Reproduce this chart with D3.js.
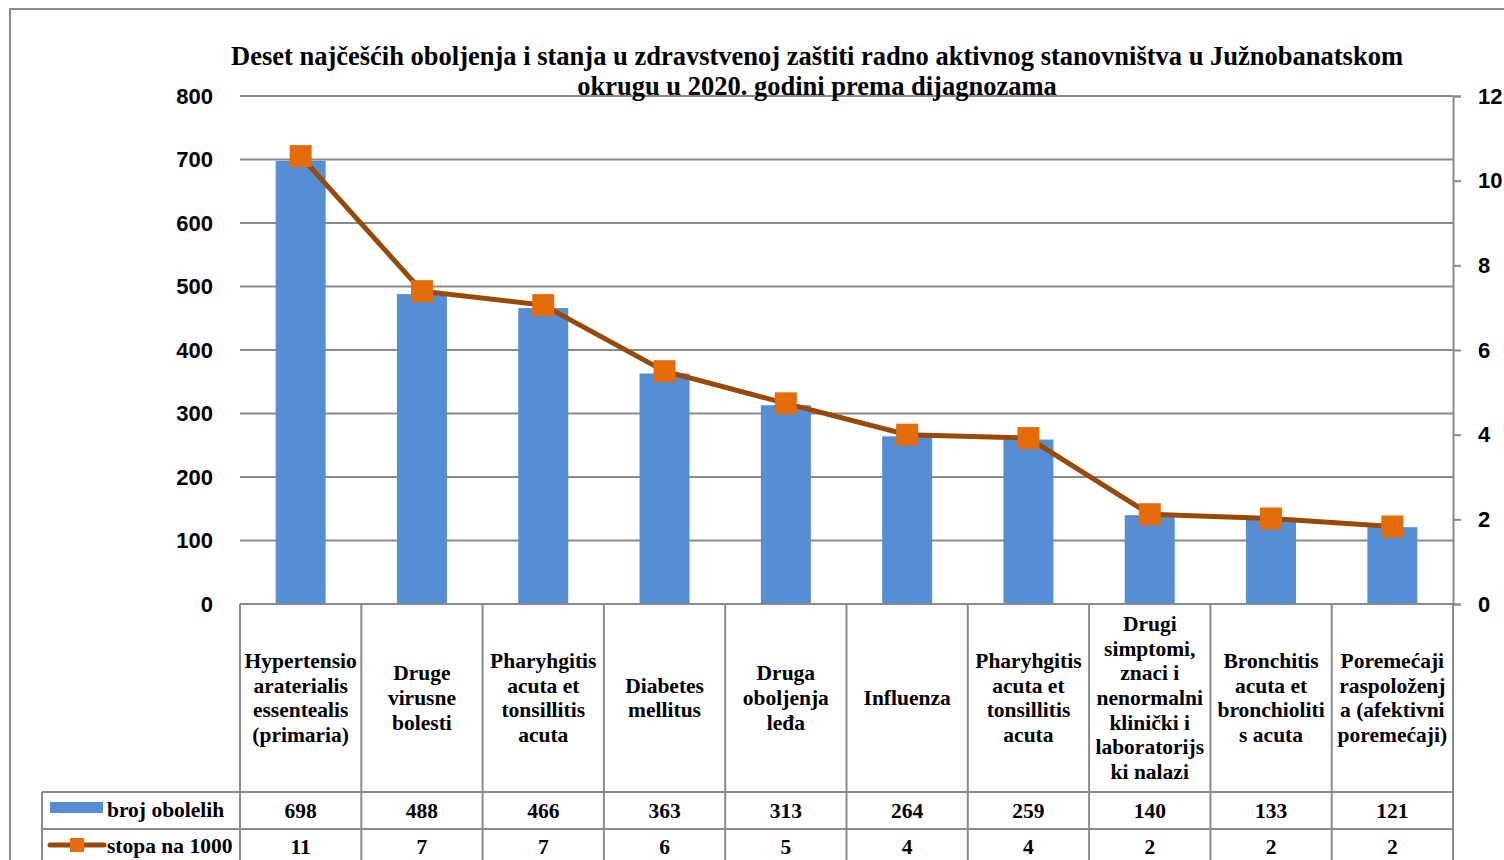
<!DOCTYPE html>
<html><head><meta charset="utf-8">
<script src="https://cdn.jsdelivr.net/npm/d3@7"></script>
<style>
html,body{margin:0;padding:0;background:#fff;}
svg{display:block;}
</style></head>
<body>
<svg id="c" width="1504" height="860"></svg>
<script>
const titleLines = ["Deset najčešćih oboljenja i stanja u zdravstvenoj zaštiti radno aktivnog stanovništva u Južnobanatskom",
                    "okrugu u 2020. godini prema dijagnozama"];
const categories = [
  "Hypertensio\naraterialis\nessentealis\n(primaria)",
  "Druge\nvirusne\nbolesti",
  "Pharyhgitis\nacuta et\ntonsillitis\nacuta",
  "Diabetes\nmellitus",
  "Druga\noboljenja\nleđa",
  "Influenza",
  "Pharyhgitis\nacuta et\ntonsillitis\nacuta",
  "Drugi\nsimptomi,\nznaci i\nnenormalni\nklinički i\nlaboratorijs\nki nalazi",
  "Bronchitis\nacuta et\nbronchioliti\ns acuta",
  "Poremećaji\nraspoloženj\na (afektivni\nporemećaji)"
];
const brojObolelih = [698, 488, 466, 363, 313, 264, 259, 140, 133, 121];
const stopaNa1000 = [10.58, 7.39, 7.06, 5.50, 4.74, 4.00, 3.92, 2.12, 2.02, 1.83];
const stopaTable = [11, 7, 7, 6, 5, 4, 4, 2, 2, 2];
const seriesNames = ["broj obolelih", "stopa na 1000"];
const leftTicks = [0, 100, 200, 300, 400, 500, 600, 700, 800];
const rightTicks = [0, 2, 4, 6, 8, 10, 12];

const svg = d3.select("#c");
const L = 240, R = 1453, T = 96, B = 604;
const grid = "#8a8a8a";
const serif = "'Liberation Serif','Times New Roman',serif";
const sans = "'Liberation Sans',Arial,sans-serif";
const tfs = 21.5;

// outer border
svg.append("rect").attr("x", 10).attr("y", 9).attr("width", 1600).attr("height", 1000)
  .attr("fill", "none").attr("stroke", grid).attr("stroke-width", 2);

const x = d3.scaleBand().domain(d3.range(categories.length)).range([L, R]).paddingInner(0.588).paddingOuter(0.294);
const xc = d3.scaleBand().domain(d3.range(categories.length)).range([L, R]).padding(0);
const yL = d3.scaleLinear().domain([0, 800]).range([B, T]);
const yR = d3.scaleLinear().domain([0, 12]).range([B, T]);

// gridlines
svg.append("g").selectAll("line").data(leftTicks).join("line")
  .attr("x1", L).attr("x2", R).attr("y1", d => yL(d)).attr("y2", d => yL(d))
  .attr("stroke", grid).attr("stroke-width", 2);

// left axis labels
const gl = svg.append("g").attr("transform", `translate(${L},0)`)
  .call(d3.axisLeft(yL).tickValues(leftTicks).tickSize(0).tickPadding(27));
gl.select(".domain").remove();
gl.selectAll("text").attr("font-family", sans).attr("font-weight", "bold").attr("font-size", 22).attr("fill", "#000");

// right axis
const gr = svg.append("g").attr("transform", `translate(${R},0)`)
  .call(d3.axisRight(yR).tickValues(rightTicks).tickSize(8).tickPadding(17));
gr.select(".domain").attr("stroke", grid).attr("stroke-width", 2);
gr.selectAll(".tick line").attr("stroke", grid).attr("stroke-width", 2);
gr.selectAll("text").attr("font-family", sans).attr("font-weight", "bold").attr("font-size", 22).attr("fill", "#000");

// bars
svg.append("g").selectAll("rect").data(brojObolelih).join("rect")
  .attr("x", (d, i) => x(i)).attr("width", x.bandwidth())
  .attr("y", d => yL(d)).attr("height", d => B - yL(d))
  .attr("fill", "#558ED5");

// zero line on top of bars
svg.append("line").attr("x1", L).attr("x2", R).attr("y1", B).attr("y2", B).attr("stroke", grid).attr("stroke-width", 2);

// line
const cx = i => x(i) + x.bandwidth() / 2;
svg.append("path").datum(stopaNa1000)
  .attr("d", d3.line().x((d, i) => cx(i)).y(d => yR(d)))
  .attr("fill", "none").attr("stroke", "#984807").attr("stroke-width", 5);
svg.append("g").selectAll("rect").data(stopaNa1000).join("rect")
  .attr("x", (d, i) => cx(i) - 11).attr("y", d => yR(d) - 11)
  .attr("width", 22).attr("height", 22).attr("fill", "#E46C0A");

// title
svg.append("text").attr("x", 817).attr("y", 65).attr("text-anchor", "middle")
  .attr("font-family", serif).attr("font-weight", "bold").attr("font-size", 26.5)
  .selectAll("tspan").data(titleLines).join("tspan")
  .attr("x", 817).attr("dy", (d, i) => i === 0 ? 0 : 30).text(d => d);

// data table
const tb = svg.append("g");
const rowTop = 792, rowMid = 829, rowBot = 900;
const vx = d3.range(categories.length).map(i => xc(i)).concat([R]);
tb.selectAll("line.v").data(vx).join("line").attr("class", "v")
  .attr("x1", d => d).attr("x2", d => d).attr("y1", B).attr("y2", rowBot)
  .attr("stroke", grid).attr("stroke-width", 2);
tb.append("line").attr("x1", 42).attr("x2", 42).attr("y1", rowTop).attr("y2", rowBot).attr("stroke", grid).attr("stroke-width", 2);
[rowTop, rowMid].forEach(yy => tb.append("line").attr("x1", 42).attr("x2", R).attr("y1", yy).attr("y2", yy).attr("stroke", grid).attr("stroke-width", 2));

// category labels
const lh = 24.6;
categories.forEach((c, i) => {
  const lines = c.split("\n");
  const cy = (B + rowTop) / 2;
  const y0 = cy - (lines.length - 1) * lh / 2 + 7;
  const t = tb.append("text").attr("text-anchor", "middle").attr("font-family", serif)
    .attr("font-weight", "bold").attr("font-size", tfs).attr("fill", "#000");
  lines.forEach((ln, k) => t.append("tspan").attr("x", xc(i) + xc.bandwidth() / 2).attr("y", y0 + k * lh).text(ln));
});
// values
tb.selectAll("text.v1").data(brojObolelih).join("text").attr("class", "v1")
  .attr("x", (d, i) => xc(i) + xc.bandwidth() / 2).attr("y", 818).attr("text-anchor", "middle")
  .attr("font-family", serif).attr("font-weight", "bold").attr("font-size", tfs).text(d => d);
tb.selectAll("text.v2").data(stopaTable).join("text").attr("class", "v2")
  .attr("x", (d, i) => xc(i) + xc.bandwidth() / 2).attr("y", 854).attr("text-anchor", "middle")
  .attr("font-family", serif).attr("font-weight", "bold").attr("font-size", tfs).text(d => d);

// legend keys
tb.append("rect").attr("x", 50).attr("y", 802).attr("width", 53).attr("height", 11).attr("fill", "#558ED5");
tb.append("line").attr("x1", 50).attr("x2", 104).attr("y1", 845).attr("y2", 845).attr("stroke", "#984807").attr("stroke-width", 5).attr("stroke-linecap", "round");
tb.append("rect").attr("x", 70).attr("y", 838).attr("width", 14).attr("height", 14).attr("fill", "#E46C0A");
tb.selectAll("text.lg").data(seriesNames).join("text").attr("class", "lg")
  .attr("x", 107).attr("y", (d, i) => i === 0 ? 817 : 853)
  .attr("font-family", serif).attr("font-weight", "bold").attr("font-size", tfs).text(d => d);
</script>
</body></html>
